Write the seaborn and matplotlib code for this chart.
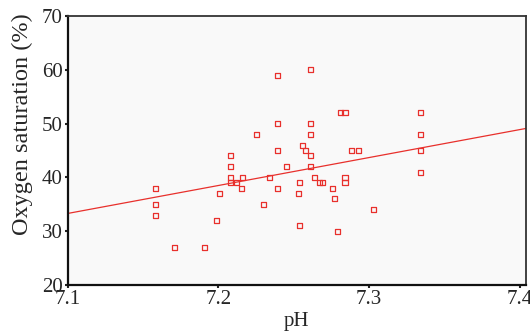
import matplotlib
matplotlib.use("Agg")
import matplotlib.pyplot as plt
import seaborn as sns
import pandas as pd

# values
ph = [7.158, 7.158, 7.158, 7.171, 7.191, 7.199, 7.201,
      7.208, 7.208, 7.208, 7.208, 7.212, 7.216, 7.215,
      7.225, 7.230, 7.234, 7.239, 7.239, 7.239, 7.239,
      7.245, 7.253, 7.254, 7.254, 7.256, 7.258,
      7.261, 7.261, 7.261, 7.261, 7.261, 7.264, 7.267, 7.269,
      7.276, 7.277, 7.279, 7.281, 7.284, 7.284, 7.284,
      7.288, 7.293, 7.303, 7.334, 7.334, 7.334, 7.334]
oxygen = [38, 35, 33, 27, 27, 32, 37,
          44, 42, 40, 39, 39, 40, 38,
          48, 35, 40, 59, 50, 45, 38,
          42, 37, 39, 31, 46, 45,
          60, 50, 48, 44, 42, 40, 39, 39,
          38, 36, 30, 52, 52, 40, 39,
          45, 45, 34, 52, 48, 45, 41]

# fitted line as shown in the figure (ends of the line)
fit_ph = [7.1, 7.404]
fit_oxygen = [33.3, 49.1]

df = pd.DataFrame({"pH": ph, "Oxygen saturation (%)": oxygen})
fit = pd.DataFrame({"pH": fit_ph, "Oxygen saturation (%)": fit_oxygen})

red = "#e8302c"

sns.set_style("ticks")
plt.rcParams["font.family"] = ["Liberation Serif", "DejaVu Serif"]

fig = plt.figure(figsize=(5.3, 3.36), dpi=100)
ax = fig.add_axes([0.128, 0.152, 0.864, 0.800])
ax.set_facecolor("#f9f9f9")

sns.lineplot(data=fit, x="pH", y="Oxygen saturation (%)", color=red,
             linewidth=0.9, ax=ax)
sns.scatterplot(data=df, x="pH", y="Oxygen saturation (%)", marker="s", s=13,
                facecolor="none", edgecolor=red, linewidth=0.9, ax=ax, zorder=3)

ax.set_xlim(7.1, 7.404)
ax.set_ylim(20, 70)
ax.set_xticks([7.1, 7.2, 7.3, 7.4])
ax.set_yticks([20, 30, 40, 50, 60, 70])
ax.set_xticklabels(["7.1", "7.2", "7.3", "7.4"])
ax.tick_params(axis="both", labelsize=15, length=2.5, width=1.5, color="#222222",
               pad=1)
ax.tick_params(axis="x", pad=1.5)

for side in ["left", "bottom"]:
    ax.spines[side].set_color("#111111")
    ax.spines[side].set_linewidth(1.6)
for side in ["top", "right"]:
    ax.spines[side].set_color("#333333")
    ax.spines[side].set_linewidth(1.3)

ax.set_xlabel("pH", fontsize=15, labelpad=2)
ax.set_ylabel("Oxygen saturation (%)", fontsize=17.5)
ax.yaxis.set_label_coords(-0.076, 0.6)

fig.savefig("out.png", dpi=100, facecolor="white")
plt.close(fig)
